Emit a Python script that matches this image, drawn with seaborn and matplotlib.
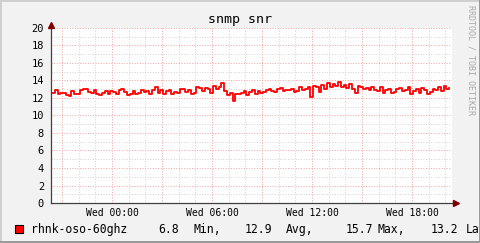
import numpy as np
import pandas as pd
import matplotlib
matplotlib.use("Agg")
import matplotlib.pyplot as plt
from matplotlib.patches import Rectangle
import seaborn as sns

# ---- data ----
title = "snmp snr"
series_name = "rhnk-oso-60ghz"
start_hour = -3.6          # hours relative to Wed 00:00
step_hours = 1.0 / 6.0     # 10-minute samples
snr_values = [
    12.6, 12.9, 12.5, 12.6, 12.6, 12.3, 12.2, 12.8, 12.5, 12.4, 12.9, 13.0, 13.0, 12.7, 12.6, 12.9, 12.5, 12.3, 12.6, 12.8, 12.4, 12.8,
    12.7, 12.5, 12.9, 13.0, 12.7, 12.3, 12.5, 12.8, 12.4, 12.6, 12.9, 12.7, 12.8, 12.5, 12.9, 13.3, 12.6, 12.9,
    12.5, 12.8, 12.9, 12.4, 12.7, 12.6, 13.0, 13.0, 12.7, 12.9, 12.5, 12.6, 13.3, 13.1, 12.8, 13.1, 13.0, 12.6,
    13.4, 13.0, 13.2, 13.7, 12.8, 12.3, 12.6, 11.6, 12.5, 12.4, 12.6, 12.8, 12.3, 12.7, 12.9, 12.5, 12.8, 12.6,
    12.7, 12.9, 13.0, 12.8, 12.7, 13.0, 13.1, 12.8, 12.9, 12.9, 13.0, 12.7, 12.8, 13.2, 12.9, 13.0, 13.3, 12.1,
    13.4, 13.3, 12.7, 13.5, 13.0, 13.7, 13.2, 13.6, 13.4, 13.8, 13.3, 13.5, 13.1, 13.6, 13.0, 12.6, 13.4, 13.2,
    13.0, 13.1, 12.9, 13.3, 12.9, 12.8, 13.2, 12.6, 12.9, 13.0, 12.6, 12.7, 13.0, 13.1, 12.8, 12.9, 13.2, 12.5,
    12.8, 13.0, 12.6, 13.1, 12.9, 12.5, 12.7, 13.0, 12.9, 13.3, 12.8, 13.4, 13.0, 13.1,
]
x_tick_hours = [0, 6, 12, 18]
x_tick_labels = ["Wed 00:00", "Wed 06:00", "Wed 12:00", "Wed 18:00"]
y_ticks = list(range(0, 21, 2))
legend_stats = [("6.8", "Min,"), ("12.9", "Avg,"), ("15.7", "Max,"), ("13.2", "La")]

hours = start_hour + step_hours * np.arange(len(snr_values))
df = pd.DataFrame({"hour": hours, "snr": snr_values})

# ---- figure ----
W, H = 481, 243
fig = plt.figure(figsize=(W / 100, H / 100), dpi=100)
fig.patch.set_facecolor("#F2F2F2")
mono = "DejaVu Sans Mono"

L, R, T, B = 51, 452, 28, 203
ax = fig.add_axes([L / W, 1 - B / H, (R - L) / W, (B - T) / H])
ax.set_facecolor("white")

sns.lineplot(data=df, x="hour", y="snr", ax=ax, color="#FF0000", lw=1.3,
             drawstyle="steps-post", legend=False, zorder=5)

ax.set_xlim(-3.66, 20.4)
ax.set_ylim(0, 20)

# grid: light dotted lines
dot = (0, (1, 1.6))
gkw = dict(lw=0.72, ls=dot)
for h in np.arange(-3, 21, 1):
    if h % 3 != 0:
        ax.axvline(h, color="#D4D4D4", zorder=1, **gkw)
for h in np.arange(-3, 21, 3):
    ax.axvline(h, color="#F2A8A8", zorder=2, **gkw)
for v in range(1, 21, 2):
    ax.axhline(v, color="#D4D4D4", zorder=1, **gkw)
for v in range(2, 21, 2):
    ax.axhline(v, color="#F2A8A8", zorder=2, **gkw)

ax.set_xticks(x_tick_hours)
ax.set_xticklabels(x_tick_labels, fontfamily=mono, fontsize=7)
ax.set_yticks(y_ticks)
ax.set_yticklabels([str(v) for v in y_ticks], fontfamily=mono, fontsize=7.5)
ax.tick_params(axis="x", length=0, pad=3.5, colors="#000000")
ax.tick_params(axis="y", length=0, pad=5, colors="#000000")
ax.set_xlabel("")
ax.set_ylabel("")
for s in ax.spines.values():
    s.set_visible(False)

# axes lines with arrows
axis_col = "#404040"
arrow_col = "#800000"
ax.plot([0, 1.01], [0, 0], transform=ax.transAxes, color=axis_col, lw=0.9, clip_on=False, zorder=6)
ax.plot([0, 0], [0, 1.01], transform=ax.transAxes, color=axis_col, lw=0.9, clip_on=False, zorder=6)
ax.plot([1.01], [0], transform=ax.transAxes, marker=">", ms=4, color=arrow_col, clip_on=False, zorder=7)
ax.plot([0], [1.015], transform=ax.transAxes, marker="^", ms=4, color=arrow_col, clip_on=False, zorder=7)

# title
fig.text(240 / W, 1 - 19 / H, title, ha="center", va="center", fontfamily=mono, fontsize=9.5, color="#000000")

# watermark
fig.text(471 / W, 1 - 60 / H, "RRDTOOL / TOBI OETIKER", rotation=270, ha="center", va="center",
         fontfamily=mono, fontsize=6, color="#A8A8A8")

# legend
ly = 1 - 229 / H
fig.patches.append(Rectangle((15 / W, 1 - 233 / H), 8 / W, 8 / H, transform=fig.transFigure,
                             facecolor="#FF0000", edgecolor="#000000", lw=0.8))
fig.text(31 / W, ly, series_name, ha="left", va="center", fontfamily=mono, fontsize=8.3)
stat_x = [(158, 193), (245, 286), (346, 378), (431, 466)]
for (val, lab), (xv, xl) in zip(legend_stats, stat_x):
    fig.text(xv / W, ly, val, ha="left", va="center", fontfamily=mono, fontsize=8.3)
    fig.text(xl / W, ly, lab, ha="left", va="center", fontfamily=mono, fontsize=8.3)

# 3D-ish border
fig.patches.append(Rectangle((0, 1 - 2 / H), 1, 2 / H, transform=fig.transFigure, color="#D0D0D0", lw=0))
fig.patches.append(Rectangle((0, 0), 2 / W, 1, transform=fig.transFigure, color="#D0D0D0", lw=0))
fig.patches.append(Rectangle((0, 0), 1, 2 / H, transform=fig.transFigure, color="#9A9A9A", lw=0))
fig.patches.append(Rectangle((1 - 2 / W, 0), 2 / W, 1, transform=fig.transFigure, color="#9A9A9A", lw=0))

fig.savefig("out.png", dpi=100, facecolor=fig.get_facecolor())
